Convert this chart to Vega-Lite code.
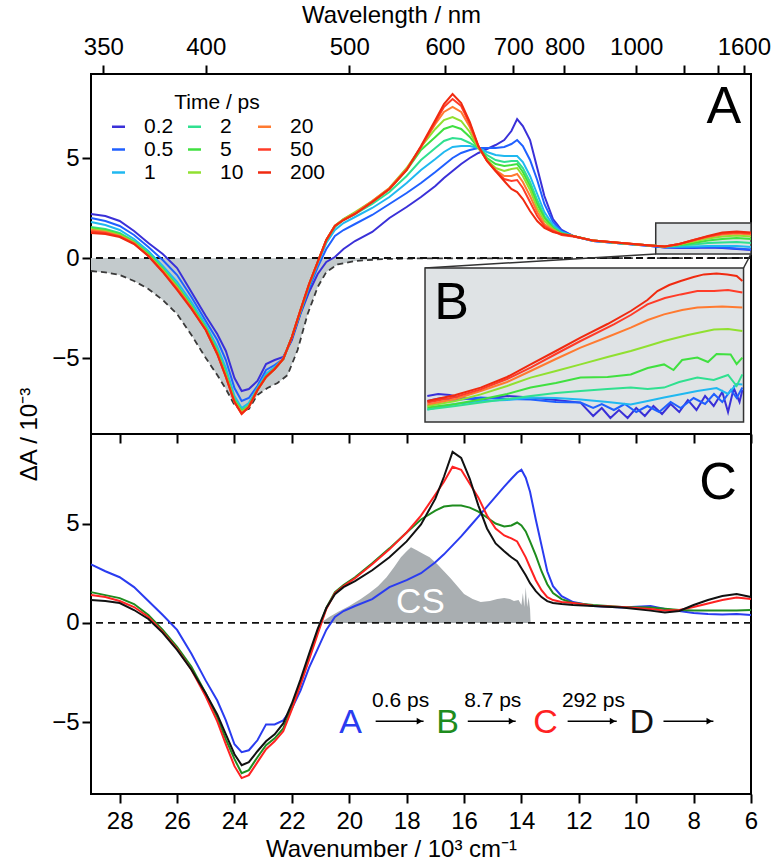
{
"$schema": "https://vega.github.io/schema/vega-lite/v6.json",
"background": "white",
"padding": {"left": 16, "top": 2, "right": 25, "bottom": 5},
"spacing": 0,
"bounds": "flush",
"config": {
  "font": "Liberation Sans",
  "view": {"stroke": "black", "strokeWidth": 2},
  "axis": {"domain": false, "grid": false, "ticks": true, "tickColor": "black", "tickWidth": 2, "tickSize": 9,
    "labelFont": "Liberation Sans", "labelFontSize": 24, "labelColor": "black",
    "titleFont": "Liberation Sans", "titleFontSize": 24, "titleFontWeight": "normal", "titleColor": "black",
    "labelFlush": false, "labelOverlap": false}
},
"resolve": {"scale": {"color": "independent"}},
"datasets": {
"ta": [
{"t":"0.2","x":29,"y":2.2},{"t":"0.2","x":28.5,"y":2.1},{"t":"0.2","x":28,"y":1.85},{"t":"0.2","x":27.5,"y":1.35},{"t":"0.2","x":27,"y":0.75},{"t":"0.2","x":26.5,"y":0.2},{"t":"0.2","x":26,"y":-0.5},{"t":"0.2","x":25.5,"y":-1.7},{"t":"0.2","x":25,"y":-2.9},{"t":"0.2","x":24.6,"y":-3.8},{"t":"0.2","x":24.3,"y":-4.65},{"t":"0.2","x":24,"y":-6.0},{"t":"0.2","x":23.75,"y":-6.65},{"t":"0.2","x":23.5,"y":-6.55},{"t":"0.2","x":23.2,"y":-6.15},{"t":"0.2","x":22.9,"y":-5.3},{"t":"0.2","x":22.6,"y":-5.1},{"t":"0.2","x":22.3,"y":-4.95},{"t":"0.2","x":22,"y":-4.1},{"t":"0.2","x":21.7,"y":-2.8},{"t":"0.2","x":21.4,"y":-1.7},{"t":"0.2","x":21.1,"y":-0.8},{"t":"0.2","x":20.8,"y":-0.2},{"t":"0.2","x":20.5,"y":0.05},{"t":"0.2","x":20.2,"y":0.45},{"t":"0.2","x":19.8,"y":0.85},{"t":"0.2","x":19.2,"y":1.3},{"t":"0.2","x":18.6,"y":2.0},{"t":"0.2","x":18,"y":2.55},{"t":"0.2","x":17.5,"y":3.05},{"t":"0.2","x":17,"y":3.6},{"t":"0.2","x":16.7,"y":4.0},{"t":"0.2","x":16.4,"y":4.35},{"t":"0.2","x":16.1,"y":4.7},{"t":"0.2","x":15.8,"y":5.0},{"t":"0.2","x":15.5,"y":5.25},{"t":"0.2","x":15.2,"y":5.45},{"t":"0.2","x":14.9,"y":5.65},{"t":"0.2","x":14.6,"y":5.9},{"t":"0.2","x":14.35,"y":6.35},{"t":"0.2","x":14.15,"y":6.95},{"t":"0.2","x":13.95,"y":6.6},{"t":"0.2","x":13.7,"y":5.9},{"t":"0.2","x":13.45,"y":4.5},{"t":"0.2","x":13.2,"y":3.1},{"t":"0.2","x":12.9,"y":1.95},{"t":"0.2","x":12.6,"y":1.4},{"t":"0.2","x":12.2,"y":1.1},{"t":"0.2","x":11.5,"y":0.85},{"t":"0.2","x":10.5,"y":0.72},{"t":"0.2","x":9.5,"y":0.6},{"t":"0.2","x":9,"y":0.52},{"t":"0.2","x":8.5,"y":0.5},{"t":"0.2","x":8,"y":0.5},{"t":"0.2","x":7.5,"y":0.52},{"t":"0.2","x":7,"y":0.5},{"t":"0.2","x":6.5,"y":0.45},{"t":"0.2","x":6,"y":0.4},
{"t":"0.5","x":29,"y":2.0},{"t":"0.5","x":28.5,"y":1.85},{"t":"0.5","x":28,"y":1.6},{"t":"0.5","x":27.5,"y":1.15},{"t":"0.5","x":27,"y":0.55},{"t":"0.5","x":26.5,"y":-0.1},{"t":"0.5","x":26,"y":-0.85},{"t":"0.5","x":25.5,"y":-1.95},{"t":"0.5","x":25,"y":-3.15},{"t":"0.5","x":24.6,"y":-4.1},{"t":"0.5","x":24.3,"y":-5.1},{"t":"0.5","x":24,"y":-6.5},{"t":"0.5","x":23.75,"y":-7.15},{"t":"0.5","x":23.5,"y":-7.0},{"t":"0.5","x":23.2,"y":-6.4},{"t":"0.5","x":22.9,"y":-5.6},{"t":"0.5","x":22.6,"y":-5.35},{"t":"0.5","x":22.3,"y":-5.05},{"t":"0.5","x":22,"y":-4.0},{"t":"0.5","x":21.7,"y":-2.75},{"t":"0.5","x":21.4,"y":-1.5},{"t":"0.5","x":21.1,"y":-0.45},{"t":"0.5","x":20.8,"y":0.45},{"t":"0.5","x":20.5,"y":1.1},{"t":"0.5","x":20.2,"y":1.4},{"t":"0.5","x":19.8,"y":1.7},{"t":"0.5","x":19.2,"y":2.15},{"t":"0.5","x":18.6,"y":2.7},{"t":"0.5","x":18,"y":3.25},{"t":"0.5","x":17.5,"y":3.75},{"t":"0.5","x":17,"y":4.3},{"t":"0.5","x":16.7,"y":4.65},{"t":"0.5","x":16.4,"y":5.0},{"t":"0.5","x":16.1,"y":5.25},{"t":"0.5","x":15.8,"y":5.4},{"t":"0.5","x":15.5,"y":5.5},{"t":"0.5","x":15.2,"y":5.5},{"t":"0.5","x":14.9,"y":5.5},{"t":"0.5","x":14.6,"y":5.55},{"t":"0.5","x":14.35,"y":5.7},{"t":"0.5","x":14.15,"y":5.9},{"t":"0.5","x":13.95,"y":5.6},{"t":"0.5","x":13.7,"y":4.9},{"t":"0.5","x":13.45,"y":3.9},{"t":"0.5","x":13.2,"y":2.7},{"t":"0.5","x":12.9,"y":1.8},{"t":"0.5","x":12.6,"y":1.35},{"t":"0.5","x":12.2,"y":1.1},{"t":"0.5","x":11.5,"y":0.85},{"t":"0.5","x":10.5,"y":0.72},{"t":"0.5","x":9.5,"y":0.6},{"t":"0.5","x":9,"y":0.53},{"t":"0.5","x":8.5,"y":0.52},{"t":"0.5","x":8,"y":0.53},{"t":"0.5","x":7.5,"y":0.55},{"t":"0.5","x":7,"y":0.52},{"t":"0.5","x":6.5,"y":0.48},{"t":"0.5","x":6,"y":0.42},
{"t":"1","x":29,"y":1.8},{"t":"1","x":28.5,"y":1.65},{"t":"1","x":28,"y":1.4},{"t":"1","x":27.5,"y":0.95},{"t":"1","x":27,"y":0.35},{"t":"1","x":26.5,"y":-0.4},{"t":"1","x":26,"y":-1.2},{"t":"1","x":25.5,"y":-2.2},{"t":"1","x":25,"y":-3.35},{"t":"1","x":24.6,"y":-4.45},{"t":"1","x":24.3,"y":-5.5},{"t":"1","x":24,"y":-6.9},{"t":"1","x":23.75,"y":-7.5},{"t":"1","x":23.5,"y":-7.25},{"t":"1","x":23.2,"y":-6.5},{"t":"1","x":22.9,"y":-5.8},{"t":"1","x":22.6,"y":-5.45},{"t":"1","x":22.3,"y":-5.05},{"t":"1","x":22,"y":-3.95},{"t":"1","x":21.7,"y":-2.7},{"t":"1","x":21.4,"y":-1.4},{"t":"1","x":21.1,"y":-0.3},{"t":"1","x":20.8,"y":0.75},{"t":"1","x":20.5,"y":1.4},{"t":"1","x":20.2,"y":1.75},{"t":"1","x":19.8,"y":2.05},{"t":"1","x":19.2,"y":2.5},{"t":"1","x":18.6,"y":3.05},{"t":"1","x":18,"y":3.75},{"t":"1","x":17.5,"y":4.4},{"t":"1","x":17,"y":4.95},{"t":"1","x":16.7,"y":5.3},{"t":"1","x":16.4,"y":5.55},{"t":"1","x":16.1,"y":5.6},{"t":"1","x":15.8,"y":5.6},{"t":"1","x":15.5,"y":5.5},{"t":"1","x":15.2,"y":5.3},{"t":"1","x":14.9,"y":5.15},{"t":"1","x":14.6,"y":5.1},{"t":"1","x":14.35,"y":5.1},{"t":"1","x":14.15,"y":5.1},{"t":"1","x":13.95,"y":4.8},{"t":"1","x":13.7,"y":4.1},{"t":"1","x":13.45,"y":3.2},{"t":"1","x":13.2,"y":2.3},{"t":"1","x":12.9,"y":1.65},{"t":"1","x":12.6,"y":1.3},{"t":"1","x":12.2,"y":1.1},{"t":"1","x":11.5,"y":0.86},{"t":"1","x":10.5,"y":0.73},{"t":"1","x":9.5,"y":0.62},{"t":"1","x":9,"y":0.56},{"t":"1","x":8.5,"y":0.56},{"t":"1","x":8,"y":0.58},{"t":"1","x":7.5,"y":0.6},{"t":"1","x":7,"y":0.6},{"t":"1","x":6.5,"y":0.6},{"t":"1","x":6,"y":0.55},
{"t":"2","x":29,"y":1.55},{"t":"2","x":28.5,"y":1.45},{"t":"2","x":28,"y":1.25},{"t":"2","x":27.5,"y":0.85},{"t":"2","x":27,"y":0.25},{"t":"2","x":26.5,"y":-0.5},{"t":"2","x":26,"y":-1.35},{"t":"2","x":25.5,"y":-2.35},{"t":"2","x":25,"y":-3.45},{"t":"2","x":24.6,"y":-4.6},{"t":"2","x":24.3,"y":-5.7},{"t":"2","x":24,"y":-7.05},{"t":"2","x":23.75,"y":-7.6},{"t":"2","x":23.5,"y":-7.35},{"t":"2","x":23.2,"y":-6.55},{"t":"2","x":22.9,"y":-5.9},{"t":"2","x":22.6,"y":-5.5},{"t":"2","x":22.3,"y":-5.05},{"t":"2","x":22,"y":-3.95},{"t":"2","x":21.7,"y":-2.65},{"t":"2","x":21.4,"y":-1.35},{"t":"2","x":21.1,"y":-0.2},{"t":"2","x":20.8,"y":0.85},{"t":"2","x":20.5,"y":1.55},{"t":"2","x":20.2,"y":1.9},{"t":"2","x":19.8,"y":2.2},{"t":"2","x":19.2,"y":2.7},{"t":"2","x":18.6,"y":3.3},{"t":"2","x":18,"y":4.1},{"t":"2","x":17.5,"y":4.9},{"t":"2","x":17,"y":5.5},{"t":"2","x":16.7,"y":5.85},{"t":"2","x":16.4,"y":6.0},{"t":"2","x":16.1,"y":5.95},{"t":"2","x":15.8,"y":5.75},{"t":"2","x":15.5,"y":5.5},{"t":"2","x":15.2,"y":5.15},{"t":"2","x":14.9,"y":4.9},{"t":"2","x":14.6,"y":4.8},{"t":"2","x":14.35,"y":4.85},{"t":"2","x":14.15,"y":4.85},{"t":"2","x":13.95,"y":4.5},{"t":"2","x":13.7,"y":3.8},{"t":"2","x":13.45,"y":2.9},{"t":"2","x":13.2,"y":2.1},{"t":"2","x":12.9,"y":1.55},{"t":"2","x":12.6,"y":1.25},{"t":"2","x":12.2,"y":1.1},{"t":"2","x":11.5,"y":0.87},{"t":"2","x":10.5,"y":0.74},{"t":"2","x":9.5,"y":0.62},{"t":"2","x":9,"y":0.57},{"t":"2","x":8.5,"y":0.62},{"t":"2","x":8,"y":0.68},{"t":"2","x":7.5,"y":0.75},{"t":"2","x":7,"y":0.78},{"t":"2","x":6.5,"y":0.8},{"t":"2","x":6,"y":0.75},
{"t":"5","x":29,"y":1.5},{"t":"5","x":28.5,"y":1.4},{"t":"5","x":28,"y":1.2},{"t":"5","x":27.5,"y":0.8},{"t":"5","x":27,"y":0.2},{"t":"5","x":26.5,"y":-0.55},{"t":"5","x":26,"y":-1.4},{"t":"5","x":25.5,"y":-2.4},{"t":"5","x":25,"y":-3.5},{"t":"5","x":24.6,"y":-4.7},{"t":"5","x":24.3,"y":-5.8},{"t":"5","x":24,"y":-7.1},{"t":"5","x":23.75,"y":-7.65},{"t":"5","x":23.5,"y":-7.4},{"t":"5","x":23.2,"y":-6.6},{"t":"5","x":22.9,"y":-5.95},{"t":"5","x":22.6,"y":-5.55},{"t":"5","x":22.3,"y":-5.05},{"t":"5","x":22,"y":-3.95},{"t":"5","x":21.7,"y":-2.65},{"t":"5","x":21.4,"y":-1.35},{"t":"5","x":21.1,"y":-0.2},{"t":"5","x":20.8,"y":0.9},{"t":"5","x":20.5,"y":1.6},{"t":"5","x":20.2,"y":1.95},{"t":"5","x":19.8,"y":2.25},{"t":"5","x":19.2,"y":2.8},{"t":"5","x":18.6,"y":3.45},{"t":"5","x":18,"y":4.4},{"t":"5","x":17.5,"y":5.4},{"t":"5","x":17,"y":6.05},{"t":"5","x":16.7,"y":6.45},{"t":"5","x":16.4,"y":6.6},{"t":"5","x":16.1,"y":6.45},{"t":"5","x":15.8,"y":6.05},{"t":"5","x":15.5,"y":5.5},{"t":"5","x":15.2,"y":5.0},{"t":"5","x":14.9,"y":4.7},{"t":"5","x":14.6,"y":4.6},{"t":"5","x":14.35,"y":4.65},{"t":"5","x":14.15,"y":4.7},{"t":"5","x":13.95,"y":4.3},{"t":"5","x":13.7,"y":3.6},{"t":"5","x":13.45,"y":2.7},{"t":"5","x":13.2,"y":2.0},{"t":"5","x":12.9,"y":1.5},{"t":"5","x":12.6,"y":1.22},{"t":"5","x":12.2,"y":1.1},{"t":"5","x":11.5,"y":0.87},{"t":"5","x":10.5,"y":0.74},{"t":"5","x":9.5,"y":0.62},{"t":"5","x":9,"y":0.58},{"t":"5","x":8.5,"y":0.65},{"t":"5","x":8,"y":0.75},{"t":"5","x":7.5,"y":0.88},{"t":"5","x":7,"y":0.95},{"t":"5","x":6.5,"y":1.0},{"t":"5","x":6,"y":0.95},
{"t":"10","x":29,"y":1.45},{"t":"10","x":28.5,"y":1.35},{"t":"10","x":28,"y":1.15},{"t":"10","x":27.5,"y":0.78},{"t":"10","x":27,"y":0.15},{"t":"10","x":26.5,"y":-0.6},{"t":"10","x":26,"y":-1.45},{"t":"10","x":25.5,"y":-2.45},{"t":"10","x":25,"y":-3.55},{"t":"10","x":24.6,"y":-4.75},{"t":"10","x":24.3,"y":-5.85},{"t":"10","x":24,"y":-7.15},{"t":"10","x":23.75,"y":-7.7},{"t":"10","x":23.5,"y":-7.4},{"t":"10","x":23.2,"y":-6.6},{"t":"10","x":22.9,"y":-5.95},{"t":"10","x":22.6,"y":-5.55},{"t":"10","x":22.3,"y":-5.05},{"t":"10","x":22,"y":-3.95},{"t":"10","x":21.7,"y":-2.6},{"t":"10","x":21.4,"y":-1.3},{"t":"10","x":21.1,"y":-0.2},{"t":"10","x":20.8,"y":0.9},{"t":"10","x":20.5,"y":1.62},{"t":"10","x":20.2,"y":1.95},{"t":"10","x":19.8,"y":2.3},{"t":"10","x":19.2,"y":2.85},{"t":"10","x":18.6,"y":3.5},{"t":"10","x":18,"y":4.5},{"t":"10","x":17.5,"y":5.55},{"t":"10","x":17,"y":6.45},{"t":"10","x":16.7,"y":6.9},{"t":"10","x":16.4,"y":7.05},{"t":"10","x":16.1,"y":6.85},{"t":"10","x":15.8,"y":6.3},{"t":"10","x":15.5,"y":5.5},{"t":"10","x":15.2,"y":4.9},{"t":"10","x":14.9,"y":4.5},{"t":"10","x":14.6,"y":4.35},{"t":"10","x":14.35,"y":4.45},{"t":"10","x":14.15,"y":4.5},{"t":"10","x":13.95,"y":4.1},{"t":"10","x":13.7,"y":3.4},{"t":"10","x":13.45,"y":2.5},{"t":"10","x":13.2,"y":1.85},{"t":"10","x":12.9,"y":1.45},{"t":"10","x":12.6,"y":1.2},{"t":"10","x":12.2,"y":1.1},{"t":"10","x":11.5,"y":0.87},{"t":"10","x":10.5,"y":0.74},{"t":"10","x":9.5,"y":0.62},{"t":"10","x":9,"y":0.58},{"t":"10","x":8.5,"y":0.68},{"t":"10","x":8,"y":0.82},{"t":"10","x":7.5,"y":0.98},{"t":"10","x":7,"y":1.08},{"t":"10","x":6.5,"y":1.12},{"t":"10","x":6,"y":1.07},
{"t":"20","x":29,"y":1.4},{"t":"20","x":28.5,"y":1.3},{"t":"20","x":28,"y":1.1},{"t":"20","x":27.5,"y":0.75},{"t":"20","x":27,"y":0.12},{"t":"20","x":26.5,"y":-0.65},{"t":"20","x":26,"y":-1.5},{"t":"20","x":25.5,"y":-2.5},{"t":"20","x":25,"y":-3.6},{"t":"20","x":24.6,"y":-4.8},{"t":"20","x":24.3,"y":-5.9},{"t":"20","x":24,"y":-7.2},{"t":"20","x":23.75,"y":-7.75},{"t":"20","x":23.5,"y":-7.45},{"t":"20","x":23.2,"y":-6.6},{"t":"20","x":22.9,"y":-5.95},{"t":"20","x":22.6,"y":-5.55},{"t":"20","x":22.3,"y":-5.05},{"t":"20","x":22,"y":-3.95},{"t":"20","x":21.7,"y":-2.6},{"t":"20","x":21.4,"y":-1.3},{"t":"20","x":21.1,"y":-0.2},{"t":"20","x":20.8,"y":0.9},{"t":"20","x":20.5,"y":1.62},{"t":"20","x":20.2,"y":1.92},{"t":"20","x":19.8,"y":2.25},{"t":"20","x":19.2,"y":2.85},{"t":"20","x":18.6,"y":3.5},{"t":"20","x":18,"y":4.45},{"t":"20","x":17.5,"y":5.55},{"t":"20","x":17,"y":6.7},{"t":"20","x":16.7,"y":7.3},{"t":"20","x":16.4,"y":7.55},{"t":"20","x":16.1,"y":7.3},{"t":"20","x":15.8,"y":6.55},{"t":"20","x":15.5,"y":5.55},{"t":"20","x":15.2,"y":4.85},{"t":"20","x":14.9,"y":4.4},{"t":"20","x":14.6,"y":4.1},{"t":"20","x":14.35,"y":4.1},{"t":"20","x":14.15,"y":4.2},{"t":"20","x":13.95,"y":3.8},{"t":"20","x":13.7,"y":3.1},{"t":"20","x":13.45,"y":2.3},{"t":"20","x":13.2,"y":1.7},{"t":"20","x":12.9,"y":1.4},{"t":"20","x":12.6,"y":1.18},{"t":"20","x":12.2,"y":1.1},{"t":"20","x":11.5,"y":0.87},{"t":"20","x":10.5,"y":0.75},{"t":"20","x":9.5,"y":0.62},{"t":"20","x":9,"y":0.58},{"t":"20","x":8.5,"y":0.7},{"t":"20","x":8,"y":0.87},{"t":"20","x":7.5,"y":1.05},{"t":"20","x":7,"y":1.18},{"t":"20","x":6.5,"y":1.22},{"t":"20","x":6,"y":1.18},
{"t":"50","x":29,"y":1.32},{"t":"50","x":28.5,"y":1.25},{"t":"50","x":28,"y":1.08},{"t":"50","x":27.5,"y":0.72},{"t":"50","x":27,"y":0.1},{"t":"50","x":26.5,"y":-0.68},{"t":"50","x":26,"y":-1.55},{"t":"50","x":25.5,"y":-2.5},{"t":"50","x":25,"y":-3.6},{"t":"50","x":24.6,"y":-4.8},{"t":"50","x":24.3,"y":-5.95},{"t":"50","x":24,"y":-7.2},{"t":"50","x":23.75,"y":-7.8},{"t":"50","x":23.5,"y":-7.45},{"t":"50","x":23.2,"y":-6.6},{"t":"50","x":22.9,"y":-5.95},{"t":"50","x":22.6,"y":-5.55},{"t":"50","x":22.3,"y":-5.05},{"t":"50","x":22,"y":-3.95},{"t":"50","x":21.7,"y":-2.6},{"t":"50","x":21.4,"y":-1.3},{"t":"50","x":21.1,"y":-0.2},{"t":"50","x":20.8,"y":0.9},{"t":"50","x":20.5,"y":1.6},{"t":"50","x":20.2,"y":1.9},{"t":"50","x":19.8,"y":2.2},{"t":"50","x":19.2,"y":2.8},{"t":"50","x":18.6,"y":3.45},{"t":"50","x":18,"y":4.4},{"t":"50","x":17.5,"y":5.55},{"t":"50","x":17,"y":6.8},{"t":"50","x":16.7,"y":7.55},{"t":"50","x":16.4,"y":7.95},{"t":"50","x":16.1,"y":7.6},{"t":"50","x":15.8,"y":6.7},{"t":"50","x":15.5,"y":5.6},{"t":"50","x":15.2,"y":4.85},{"t":"50","x":14.9,"y":4.35},{"t":"50","x":14.6,"y":3.95},{"t":"50","x":14.35,"y":3.85},{"t":"50","x":14.15,"y":3.9},{"t":"50","x":13.95,"y":3.5},{"t":"50","x":13.7,"y":2.8},{"t":"50","x":13.45,"y":2.1},{"t":"50","x":13.2,"y":1.6},{"t":"50","x":12.9,"y":1.35},{"t":"50","x":12.6,"y":1.15},{"t":"50","x":12.2,"y":1.08},{"t":"50","x":11.5,"y":0.87},{"t":"50","x":10.5,"y":0.75},{"t":"50","x":9.5,"y":0.62},{"t":"50","x":9,"y":0.57},{"t":"50","x":8.5,"y":0.7},{"t":"50","x":8,"y":0.9},{"t":"50","x":7.5,"y":1.08},{"t":"50","x":7,"y":1.22},{"t":"50","x":6.5,"y":1.27},{"t":"50","x":6,"y":1.22},
{"t":"200","x":29,"y":1.25},{"t":"200","x":28.5,"y":1.2},{"t":"200","x":28,"y":1.05},{"t":"200","x":27.5,"y":0.7},{"t":"200","x":27,"y":0.1},{"t":"200","x":26.5,"y":-0.7},{"t":"200","x":26,"y":-1.6},{"t":"200","x":25.5,"y":-2.55},{"t":"200","x":25,"y":-3.6},{"t":"200","x":24.6,"y":-4.8},{"t":"200","x":24.3,"y":-5.95},{"t":"200","x":24,"y":-7.2},{"t":"200","x":23.75,"y":-7.8},{"t":"200","x":23.5,"y":-7.45},{"t":"200","x":23.2,"y":-6.6},{"t":"200","x":22.9,"y":-5.95},{"t":"200","x":22.6,"y":-5.55},{"t":"200","x":22.3,"y":-5.05},{"t":"200","x":22,"y":-3.95},{"t":"200","x":21.7,"y":-2.6},{"t":"200","x":21.4,"y":-1.3},{"t":"200","x":21.1,"y":-0.2},{"t":"200","x":20.8,"y":0.9},{"t":"200","x":20.5,"y":1.6},{"t":"200","x":20.2,"y":1.9},{"t":"200","x":19.8,"y":2.2},{"t":"200","x":19.2,"y":2.8},{"t":"200","x":18.6,"y":3.45},{"t":"200","x":18,"y":4.4},{"t":"200","x":17.5,"y":5.6},{"t":"200","x":17,"y":6.9},{"t":"200","x":16.7,"y":7.7},{"t":"200","x":16.4,"y":8.2},{"t":"200","x":16.1,"y":7.75},{"t":"200","x":15.8,"y":6.8},{"t":"200","x":15.5,"y":5.6},{"t":"200","x":15.2,"y":4.85},{"t":"200","x":14.9,"y":4.35},{"t":"200","x":14.6,"y":3.85},{"t":"200","x":14.35,"y":3.45},{"t":"200","x":14.15,"y":3.3},{"t":"200","x":13.95,"y":2.95},{"t":"200","x":13.7,"y":2.35},{"t":"200","x":13.45,"y":1.85},{"t":"200","x":13.2,"y":1.5},{"t":"200","x":12.9,"y":1.3},{"t":"200","x":12.6,"y":1.2},{"t":"200","x":12.2,"y":1.1},{"t":"200","x":11.5,"y":0.87},{"t":"200","x":10.5,"y":0.75},{"t":"200","x":9.5,"y":0.62},{"t":"200","x":9,"y":0.57},{"t":"200","x":8.5,"y":0.7},{"t":"200","x":8,"y":0.9},{"t":"200","x":7.5,"y":1.1},{"t":"200","x":7,"y":1.28},{"t":"200","x":6.5,"y":1.33},{"t":"200","x":6,"y":1.27}
],
"ss": [
{"x":29,"y":-0.65},{"x":28.5,"y":-0.72},{"x":28,"y":-0.85},{"x":27.5,"y":-1.15},{"x":27,"y":-1.55},{"x":26.5,"y":-2.1},{"x":26,"y":-2.8},{"x":25.5,"y":-3.85},{"x":25,"y":-5.0},{"x":24.6,"y":-5.85},{"x":24.3,"y":-6.55},{"x":24,"y":-7.35},{"x":23.75,"y":-7.65},{"x":23.5,"y":-7.55},{"x":23.2,"y":-6.85},{"x":22.85,"y":-6.5},{"x":22.5,"y":-6.25},{"x":22.15,"y":-5.85},{"x":21.8,"y":-4.6},{"x":21.45,"y":-2.8},{"x":21.1,"y":-1.45},{"x":20.8,"y":-0.7},{"x":20.4,"y":-0.32},{"x":19.8,"y":-0.15},{"x":18.8,"y":-0.05},{"x":17.5,"y":-0.02},{"x":6,"y":0}
],
"ins": [
{"t":"0.2","x":17.28,"y":-6.9},{"t":"0.2","x":16.9,"y":-6.8},{"t":"0.2","x":16.5,"y":-6.85},{"t":"0.2","x":16.1,"y":-7.0},{"t":"0.2","x":15.42,"y":-7.07},{"t":"0.2","x":14.5,"y":-6.9},{"t":"0.2","x":13.68,"y":-6.98},{"t":"0.2","x":12.8,"y":-7.1},{"t":"0.2","x":11.94,"y":-7.23},{"t":"0.2","x":11.5,"y":-7.9},{"t":"0.2","x":11.2,"y":-7.5},{"t":"0.2","x":10.9,"y":-8.0},{"t":"0.2","x":10.6,"y":-7.6},{"t":"0.2","x":10.3,"y":-8.0},{"t":"0.2","x":10.0,"y":-7.5},{"t":"0.2","x":9.7,"y":-7.9},{"t":"0.2","x":9.4,"y":-7.4},{"t":"0.2","x":9.1,"y":-7.8},{"t":"0.2","x":8.8,"y":-7.3},{"t":"0.2","x":8.5,"y":-7.7},{"t":"0.2","x":8.2,"y":-7.1},{"t":"0.2","x":7.9,"y":-7.6},{"t":"0.2","x":7.6,"y":-6.9},{"t":"0.2","x":7.3,"y":-7.4},{"t":"0.2","x":7.0,"y":-6.7},{"t":"0.2","x":6.8,"y":-7.7},{"t":"0.2","x":6.6,"y":-6.5},{"t":"0.2","x":6.4,"y":-7.2},{"t":"0.2","x":6.3,"y":-6.6},
{"t":"0.5","x":17.28,"y":-7.15},{"t":"0.5","x":16.8,"y":-7.0},{"t":"0.5","x":16.3,"y":-7.1},{"t":"0.5","x":15.42,"y":-6.98},{"t":"0.5","x":14.5,"y":-7.05},{"t":"0.5","x":13.68,"y":-7.07},{"t":"0.5","x":12.8,"y":-7.2},{"t":"0.5","x":11.94,"y":-7.23},{"t":"0.5","x":11.5,"y":-7.5},{"t":"0.5","x":11.2,"y":-7.3},{"t":"0.5","x":10.78,"y":-7.6},{"t":"0.5","x":10.4,"y":-7.3},{"t":"0.5","x":10.0,"y":-7.7},{"t":"0.5","x":9.61,"y":-7.4},{"t":"0.5","x":9.2,"y":-7.7},{"t":"0.5","x":8.8,"y":-7.2},{"t":"0.5","x":8.45,"y":-7.5},{"t":"0.5","x":8.0,"y":-7.0},{"t":"0.5","x":7.6,"y":-7.3},{"t":"0.5","x":7.29,"y":-6.8},{"t":"0.5","x":7.0,"y":-7.2},{"t":"0.5","x":6.7,"y":-6.6},{"t":"0.5","x":6.5,"y":-7.0},{"t":"0.5","x":6.3,"y":-6.48},
{"t":"1","x":17.28,"y":-7.57},{"t":"1","x":16.3,"y":-7.3},{"t":"1","x":15.42,"y":-7.15},{"t":"1","x":14.5,"y":-7.1},{"t":"1","x":13.68,"y":-6.98},{"t":"1","x":12.8,"y":-7.0},{"t":"1","x":11.94,"y":-7.07},{"t":"1","x":11.0,"y":-7.2},{"t":"1","x":10.19,"y":-7.32},{"t":"1","x":9.6,"y":-7.15},{"t":"1","x":9.03,"y":-6.98},{"t":"1","x":8.4,"y":-6.8},{"t":"1","x":7.87,"y":-6.65},{"t":"1","x":7.2,"y":-6.5},{"t":"1","x":6.8,"y":-6.8},{"t":"1","x":6.5,"y":-6.3},{"t":"1","x":6.3,"y":-6.32},
{"t":"2","x":17.28,"y":-7.57},{"t":"2","x":16.3,"y":-7.4},{"t":"2","x":15.42,"y":-7.23},{"t":"2","x":14.5,"y":-7.05},{"t":"2","x":13.68,"y":-6.9},{"t":"2","x":12.8,"y":-6.75},{"t":"2","x":11.94,"y":-6.65},{"t":"2","x":11.0,"y":-6.55},{"t":"2","x":10.19,"y":-6.48},{"t":"2","x":9.6,"y":-6.55},{"t":"2","x":9.03,"y":-6.48},{"t":"2","x":8.5,"y":-6.2},{"t":"2","x":7.87,"y":-5.98},{"t":"2","x":7.3,"y":-6.1},{"t":"2","x":6.8,"y":-5.85},{"t":"2","x":6.5,"y":-6.4},{"t":"2","x":6.3,"y":-5.82},
{"t":"5","x":17.28,"y":-7.48},{"t":"5","x":16.3,"y":-7.3},{"t":"5","x":15.42,"y":-7.07},{"t":"5","x":14.5,"y":-6.8},{"t":"5","x":13.68,"y":-6.48},{"t":"5","x":12.8,"y":-6.25},{"t":"5","x":11.94,"y":-5.98},{"t":"5","x":11.0,"y":-5.95},{"t":"5","x":10.19,"y":-5.82},{"t":"5","x":9.6,"y":-5.5},{"t":"5","x":9.03,"y":-5.32},{"t":"5","x":8.7,"y":-5.6},{"t":"5","x":8.4,"y":-5.1},{"t":"5","x":7.87,"y":-4.98},{"t":"5","x":7.5,"y":-5.2},{"t":"5","x":7.2,"y":-4.8},{"t":"5","x":6.71,"y":-4.82},{"t":"5","x":6.5,"y":-5.3},{"t":"5","x":6.3,"y":-4.98},
{"t":"10","x":17.28,"y":-7.4},{"t":"10","x":16.3,"y":-7.15},{"t":"10","x":15.42,"y":-6.82},{"t":"10","x":14.5,"y":-6.4},{"t":"10","x":13.68,"y":-5.98},{"t":"10","x":12.8,"y":-5.65},{"t":"10","x":11.94,"y":-5.32},{"t":"10","x":11.0,"y":-4.95},{"t":"10","x":10.19,"y":-4.65},{"t":"10","x":9.6,"y":-4.4},{"t":"10","x":9.03,"y":-4.15},{"t":"10","x":8.2,"y":-3.85},{"t":"10","x":7.29,"y":-3.57},{"t":"10","x":6.8,"y":-3.55},{"t":"10","x":6.3,"y":-3.65},
{"t":"20","x":17.28,"y":-7.32},{"t":"20","x":16.3,"y":-7.05},{"t":"20","x":15.42,"y":-6.65},{"t":"20","x":14.5,"y":-6.2},{"t":"20","x":13.68,"y":-5.65},{"t":"20","x":12.8,"y":-5.05},{"t":"20","x":11.94,"y":-4.48},{"t":"20","x":11.0,"y":-3.95},{"t":"20","x":10.19,"y":-3.48},{"t":"20","x":9.6,"y":-3.1},{"t":"20","x":9.03,"y":-2.82},{"t":"20","x":8.4,"y":-2.6},{"t":"20","x":7.87,"y":-2.48},{"t":"20","x":7.0,"y":-2.42},{"t":"20","x":6.3,"y":-2.48},
{"t":"50","x":17.28,"y":-7.23},{"t":"50","x":16.3,"y":-6.95},{"t":"50","x":15.42,"y":-6.57},{"t":"50","x":14.5,"y":-6.05},{"t":"50","x":13.68,"y":-5.48},{"t":"50","x":12.8,"y":-4.8},{"t":"50","x":11.94,"y":-4.15},{"t":"50","x":10.78,"y":-3.32},{"t":"50","x":10.19,"y":-2.85},{"t":"50","x":9.61,"y":-2.32},{"t":"50","x":9.0,"y":-2.0},{"t":"50","x":8.45,"y":-1.82},{"t":"50","x":7.87,"y":-1.65},{"t":"50","x":7.29,"y":-1.65},{"t":"50","x":6.8,"y":-1.6},{"t":"50","x":6.3,"y":-1.73},
{"t":"200","x":17.28,"y":-7.15},{"t":"200","x":16.3,"y":-6.85},{"t":"200","x":15.42,"y":-6.48},{"t":"200","x":14.5,"y":-5.95},{"t":"200","x":13.68,"y":-5.32},{"t":"200","x":12.8,"y":-4.65},{"t":"200","x":11.94,"y":-3.98},{"t":"200","x":11.0,"y":-3.3},{"t":"200","x":10.19,"y":-2.65},{"t":"200","x":9.61,"y":-2.1},{"t":"200","x":9.26,"y":-1.65},{"t":"200","x":8.85,"y":-1.35},{"t":"200","x":8.45,"y":-1.15},{"t":"200","x":8.0,"y":-0.95},{"t":"200","x":7.64,"y":-0.82},{"t":"200","x":7.2,"y":-0.78},{"t":"200","x":6.83,"y":-0.82},{"t":"200","x":6.5,"y":-0.9},{"t":"200","x":6.3,"y":-1.15}
],
"tc": [
{"s":"A","x":29,"y":2.95},{"s":"A","x":28.5,"y":2.6},{"s":"A","x":28,"y":2.3},{"s":"A","x":27.5,"y":1.8},{"s":"A","x":27,"y":1.1},{"s":"A","x":26.5,"y":0.4},{"s":"A","x":26,"y":-0.35},{"s":"A","x":25.5,"y":-1.55},{"s":"A","x":25,"y":-2.9},{"s":"A","x":24.6,"y":-3.9},{"s":"A","x":24.3,"y":-4.9},{"s":"A","x":24,"y":-6.1},{"s":"A","x":23.75,"y":-6.5},{"s":"A","x":23.5,"y":-6.4},{"s":"A","x":23.2,"y":-5.9},{"s":"A","x":22.9,"y":-5.1},{"s":"A","x":22.6,"y":-5.1},{"s":"A","x":22.3,"y":-4.9},{"s":"A","x":22,"y":-4.3},{"s":"A","x":21.7,"y":-3.4},{"s":"A","x":21.4,"y":-2.25},{"s":"A","x":21.1,"y":-1.3},{"s":"A","x":20.8,"y":-0.35},{"s":"A","x":20.5,"y":0.3},{"s":"A","x":20.2,"y":0.6},{"s":"A","x":19.8,"y":0.85},{"s":"A","x":19.2,"y":1.2},{"s":"A","x":18.6,"y":1.8},{"s":"A","x":18,"y":2.15},{"s":"A","x":17.5,"y":2.5},{"s":"A","x":17,"y":3.05},{"s":"A","x":16.7,"y":3.45},{"s":"A","x":16.4,"y":3.9},{"s":"A","x":16.1,"y":4.35},{"s":"A","x":15.8,"y":4.85},{"s":"A","x":15.5,"y":5.35},{"s":"A","x":15.2,"y":5.85},{"s":"A","x":14.9,"y":6.35},{"s":"A","x":14.6,"y":6.85},{"s":"A","x":14.35,"y":7.25},{"s":"A","x":14.15,"y":7.55},{"s":"A","x":14,"y":7.7},{"s":"A","x":13.85,"y":7.3},{"s":"A","x":13.7,"y":6.6},{"s":"A","x":13.5,"y":5.2},{"s":"A","x":13.3,"y":3.9},{"s":"A","x":13.1,"y":2.6},{"s":"A","x":12.9,"y":1.85},{"s":"A","x":12.6,"y":1.35},{"s":"A","x":12.2,"y":1.05},{"s":"A","x":11.5,"y":0.85},{"s":"A","x":10.5,"y":0.78},{"s":"A","x":9.5,"y":0.85},{"s":"A","x":9,"y":0.7},{"s":"A","x":8.5,"y":0.6},{"s":"A","x":8,"y":0.5},{"s":"A","x":7.5,"y":0.45},{"s":"A","x":7,"y":0.42},{"s":"A","x":6.5,"y":0.45},{"s":"A","x":6,"y":0.4},
{"s":"B","x":29,"y":1.55},{"s":"B","x":28.5,"y":1.4},{"s":"B","x":28,"y":1.25},{"s":"B","x":27.5,"y":0.95},{"s":"B","x":27,"y":0.4},{"s":"B","x":26.5,"y":-0.35},{"s":"B","x":26,"y":-1.2},{"s":"B","x":25.5,"y":-2.2},{"s":"B","x":25,"y":-3.55},{"s":"B","x":24.6,"y":-4.75},{"s":"B","x":24.3,"y":-5.85},{"s":"B","x":24,"y":-6.85},{"s":"B","x":23.75,"y":-7.55},{"s":"B","x":23.5,"y":-7.4},{"s":"B","x":23.2,"y":-6.75},{"s":"B","x":22.9,"y":-6.15},{"s":"B","x":22.6,"y":-5.8},{"s":"B","x":22.3,"y":-5.3},{"s":"B","x":22,"y":-4.25},{"s":"B","x":21.7,"y":-3.05},{"s":"B","x":21.4,"y":-1.75},{"s":"B","x":21.1,"y":-0.45},{"s":"B","x":20.8,"y":0.75},{"s":"B","x":20.5,"y":1.55},{"s":"B","x":20.2,"y":1.9},{"s":"B","x":19.8,"y":2.3},{"s":"B","x":19.2,"y":3.0},{"s":"B","x":18.6,"y":3.75},{"s":"B","x":18,"y":4.55},{"s":"B","x":17.5,"y":5.2},{"s":"B","x":17,"y":5.65},{"s":"B","x":16.7,"y":5.85},{"s":"B","x":16.4,"y":5.9},{"s":"B","x":16.1,"y":5.9},{"s":"B","x":15.8,"y":5.8},{"s":"B","x":15.5,"y":5.6},{"s":"B","x":15.2,"y":5.3},{"s":"B","x":14.9,"y":5.0},{"s":"B","x":14.6,"y":4.85},{"s":"B","x":14.35,"y":4.9},{"s":"B","x":14.15,"y":5.05},{"s":"B","x":14,"y":4.9},{"s":"B","x":13.85,"y":4.6},{"s":"B","x":13.7,"y":4.1},{"s":"B","x":13.5,"y":3.4},{"s":"B","x":13.3,"y":2.6},{"s":"B","x":13.1,"y":1.95},{"s":"B","x":12.9,"y":1.5},{"s":"B","x":12.6,"y":1.2},{"s":"B","x":12.2,"y":1.0},{"s":"B","x":11.5,"y":0.9},{"s":"B","x":10.5,"y":0.8},{"s":"B","x":9.5,"y":0.78},{"s":"B","x":9,"y":0.72},{"s":"B","x":8.5,"y":0.65},{"s":"B","x":8,"y":0.62},{"s":"B","x":7.5,"y":0.62},{"s":"B","x":7,"y":0.62},{"s":"B","x":6.5,"y":0.63},{"s":"B","x":6,"y":0.65},
{"s":"C","x":29,"y":1.4},{"s":"C","x":28.5,"y":1.3},{"s":"C","x":28,"y":1.1},{"s":"C","x":27.5,"y":0.8},{"s":"C","x":27,"y":0.3},{"s":"C","x":26.5,"y":-0.45},{"s":"C","x":26,"y":-1.3},{"s":"C","x":25.5,"y":-2.35},{"s":"C","x":25,"y":-3.7},{"s":"C","x":24.6,"y":-4.95},{"s":"C","x":24.3,"y":-6.1},{"s":"C","x":24,"y":-7.2},{"s":"C","x":23.75,"y":-7.8},{"s":"C","x":23.5,"y":-7.65},{"s":"C","x":23.2,"y":-7.0},{"s":"C","x":22.9,"y":-6.35},{"s":"C","x":22.6,"y":-5.95},{"s":"C","x":22.3,"y":-5.45},{"s":"C","x":22,"y":-4.35},{"s":"C","x":21.7,"y":-3.1},{"s":"C","x":21.4,"y":-1.85},{"s":"C","x":21.1,"y":-0.55},{"s":"C","x":20.8,"y":0.7},{"s":"C","x":20.5,"y":1.5},{"s":"C","x":20.2,"y":1.85},{"s":"C","x":19.8,"y":2.25},{"s":"C","x":19.2,"y":2.95},{"s":"C","x":18.6,"y":3.7},{"s":"C","x":18,"y":4.55},{"s":"C","x":17.5,"y":5.4},{"s":"C","x":17,"y":6.45},{"s":"C","x":16.7,"y":7.1},{"s":"C","x":16.4,"y":7.85},{"s":"C","x":16.1,"y":7.7},{"s":"C","x":15.8,"y":7.0},{"s":"C","x":15.5,"y":6.3},{"s":"C","x":15.2,"y":5.4},{"s":"C","x":14.9,"y":4.75},{"s":"C","x":14.6,"y":4.4},{"s":"C","x":14.35,"y":4.25},{"s":"C","x":14.15,"y":4.1},{"s":"C","x":14,"y":3.7},{"s":"C","x":13.85,"y":3.3},{"s":"C","x":13.7,"y":2.8},{"s":"C","x":13.5,"y":2.15},{"s":"C","x":13.3,"y":1.65},{"s":"C","x":13.1,"y":1.3},{"s":"C","x":12.9,"y":1.15},{"s":"C","x":12.6,"y":1.05},{"s":"C","x":12.2,"y":1.0},{"s":"C","x":11.5,"y":0.87},{"s":"C","x":10.5,"y":0.8},{"s":"C","x":9.5,"y":0.7},{"s":"C","x":9,"y":0.62},{"s":"C","x":8.5,"y":0.65},{"s":"C","x":8,"y":0.8},{"s":"C","x":7.5,"y":0.98},{"s":"C","x":7,"y":1.15},{"s":"C","x":6.5,"y":1.28},{"s":"C","x":6,"y":1.2},
{"s":"D","x":29,"y":1.15},{"s":"D","x":28.5,"y":1.1},{"s":"D","x":28,"y":1.0},{"s":"D","x":27.5,"y":0.65},{"s":"D","x":27,"y":0.2},{"s":"D","x":26.5,"y":-0.5},{"s":"D","x":26,"y":-1.35},{"s":"D","x":25.5,"y":-2.35},{"s":"D","x":25,"y":-3.55},{"s":"D","x":24.6,"y":-4.6},{"s":"D","x":24.3,"y":-5.6},{"s":"D","x":24,"y":-6.6},{"s":"D","x":23.75,"y":-7.15},{"s":"D","x":23.5,"y":-7.0},{"s":"D","x":23.2,"y":-6.45},{"s":"D","x":22.9,"y":-5.95},{"s":"D","x":22.6,"y":-5.6},{"s":"D","x":22.3,"y":-5.05},{"s":"D","x":22,"y":-4.05},{"s":"D","x":21.7,"y":-2.85},{"s":"D","x":21.4,"y":-1.55},{"s":"D","x":21.1,"y":-0.3},{"s":"D","x":20.8,"y":0.75},{"s":"D","x":20.5,"y":1.45},{"s":"D","x":20.2,"y":1.8},{"s":"D","x":19.8,"y":2.1},{"s":"D","x":19.2,"y":2.65},{"s":"D","x":18.6,"y":3.3},{"s":"D","x":18,"y":4.1},{"s":"D","x":17.5,"y":4.95},{"s":"D","x":17,"y":6.25},{"s":"D","x":16.7,"y":7.35},{"s":"D","x":16.4,"y":8.6},{"s":"D","x":16.1,"y":8.3},{"s":"D","x":15.8,"y":7.25},{"s":"D","x":15.5,"y":5.9},{"s":"D","x":15.2,"y":4.75},{"s":"D","x":14.9,"y":4.0},{"s":"D","x":14.6,"y":3.6},{"s":"D","x":14.35,"y":3.3},{"s":"D","x":14.15,"y":3.1},{"s":"D","x":14,"y":2.75},{"s":"D","x":13.85,"y":2.4},{"s":"D","x":13.7,"y":2.0},{"s":"D","x":13.5,"y":1.6},{"s":"D","x":13.3,"y":1.3},{"s":"D","x":13.1,"y":1.1},{"s":"D","x":12.9,"y":1.0},{"s":"D","x":12.6,"y":0.95},{"s":"D","x":12.2,"y":0.9},{"s":"D","x":11.5,"y":0.85},{"s":"D","x":10.5,"y":0.78},{"s":"D","x":9.5,"y":0.62},{"s":"D","x":9,"y":0.53},{"s":"D","x":8.5,"y":0.6},{"s":"D","x":8,"y":0.9},{"s":"D","x":7.5,"y":1.15},{"s":"D","x":7,"y":1.35},{"s":"D","x":6.5,"y":1.45},{"s":"D","x":6,"y":1.3}
],
"cs": [
{"x":21.0,"y":0},{"x":20.7,"y":0.3},{"x":20.4,"y":0.55},{"x":20.0,"y":0.85},{"x":19.6,"y":1.2},{"x":19.3,"y":1.5},{"x":19.0,"y":1.85},{"x":18.7,"y":2.3},{"x":18.44,"y":2.8},{"x":18.2,"y":3.3},{"x":18.0,"y":3.6},{"x":17.85,"y":3.8},{"x":17.65,"y":3.65},{"x":17.4,"y":3.45},{"x":17.2,"y":3.3},{"x":16.93,"y":2.95},{"x":16.7,"y":2.6},{"x":16.47,"y":2.25},{"x":16.2,"y":1.8},{"x":16.0,"y":1.45},{"x":15.7,"y":1.2},{"x":15.42,"y":1.05},{"x":15.1,"y":1.1},{"x":14.84,"y":1.2},{"x":14.6,"y":1.25},{"x":14.4,"y":1.2},{"x":14.26,"y":1.1},{"x":14.1,"y":1.15},{"x":14.0,"y":0.9},{"x":13.95,"y":1.5},{"x":13.9,"y":0.8},{"x":13.85,"y":1.8},{"x":13.8,"y":0.8},{"x":13.75,"y":1.3},{"x":13.7,"y":0.7},{"x":13.68,"y":0}
]
},
"vconcat": [
{
"width": 660, "height": 360,
"resolve": {"axis": {"x": "independent", "y": "independent"}},
"layer": [
{
 "data": {"name": "ss"},
 "mark": {"type": "area", "color": "#c3cacc"},
 "encoding": {
  "x": {"field": "x", "type": "quantitative", "scale": {"domain": [6, 29], "reverse": true, "nice": false, "zero": false},
   "axis": {"orient": "top", "title": "Wavelength / nm", "values": [28.5714286, 25, 20, 16.6666667, 14.2857143, 12.5, 10, 8.3333333, 7.1428571, 6.25],
    "labelExpr": "(datum.value > 8.2 && datum.value < 8.4) || (datum.value > 7.1 && datum.value < 7.2) ? '' : format(10000 / datum.value, '.0f')",
    "labelPadding": 6, "titlePadding": 8, "titleX": 300}},
  "y": {"field": "y", "type": "quantitative", "scale": {"domain": [-8.8, 9.2], "nice": false, "zero": false},
   "axis": {"orient": "left", "values": [-5, 0, 5], "title": "ΔA / 10⁻³", "titleX": -55, "titleY": 360, "titleAngle": 270, "titleAlign": "center", "titleBaseline": "alphabetic", "labelPadding": 3}},
  "y2": {"datum": 0}
 }
},
{
 "data": {"name": "ss"},
 "mark": {"type": "line", "color": "#3a3a3a", "strokeDash": [6, 4], "strokeWidth": 1.8},
 "encoding": {
  "x": {"field": "x", "type": "quantitative", "axis": {"orient": "bottom", "values": [6,8,10,12,14,16,18,20,22,24,26,28], "labels": false, "title": null}},
  "y": {"field": "y", "type": "quantitative", "axis": null}
 }
},
{
 "data": {"values": [{}]},
 "mark": {"type": "rule", "strokeDash": [7, 5], "strokeWidth": 1.8, "color": "#111111"},
 "encoding": {"y": {"datum": 0, "axis": null}}
},
{
 "data": {"values": [{"x": 9.32, "x2": 6.0, "y": 0.2, "y2": 1.75}]},
 "mark": {"type": "rect", "fill": "#dfe3e5", "stroke": "#333333", "strokeWidth": 1.5},
 "encoding": {"x": {"field": "x", "type": "quantitative", "axis": null}, "x2": {"field": "x2"}, "y": {"field": "y", "type": "quantitative", "axis": null}, "y2": {"field": "y2"}}
},
{
 "data": {"name": "ta"},
 "mark": {"type": "line", "strokeWidth": 2},
 "encoding": {
  "x": {"field": "x", "type": "quantitative", "axis": null},
  "y": {"field": "y", "type": "quantitative", "axis": null},
  "color": {"field": "t", "type": "nominal",
   "scale": {"domain": ["0.2","2","20","0.5","5","50","1","10","200"], "range": ["#3a30d8","#30e090","#ff7a30","#2060ff","#40e040","#ff3c28","#20b8f0","#90e030","#f02a10"]},
   "legend": {"title": "Time / ps", "orient": "none", "legendX": 17, "legendY": 18, "direction": "horizontal", "columns": 3, "gridAlign": "each",
    "symbolType": "stroke", "symbolStrokeWidth": 2.5, "symbolSize": 169,
    "labelFont": "Liberation Sans", "labelFontSize": 21, "labelColor": "black", "labelOffset": 15,
    "titleFont": "Liberation Sans", "titleFontSize": 21, "titleFontWeight": "normal", "titleColor": "black", "titleAnchor": "middle", "titlePadding": 3,
    "columnPadding": 9, "rowPadding": 1, "padding": 0}}
 }
},
{
 "data": {"values": [{"x": 9.32, "y": 0.2, "x2": 17.36, "y2": -0.5}, {"x": 6.0, "y": 0.2, "x2": 6.26, "y2": -0.5}]},
 "mark": {"type": "rule", "color": "#333333", "strokeWidth": 1.5},
 "encoding": {"x": {"field": "x", "type": "quantitative", "axis": null}, "x2": {"field": "x2"}, "y": {"field": "y", "type": "quantitative", "axis": null}, "y2": {"field": "y2"}}
},
{
 "data": {"values": [{"x": 17.36, "x2": 6.26, "y": -0.5, "y2": -8.2}]},
 "mark": {"type": "rect", "fill": "#dfe3e5", "stroke": "#333333", "strokeWidth": 1.5},
 "encoding": {"x": {"field": "x", "type": "quantitative", "axis": null}, "x2": {"field": "x2"}, "y": {"field": "y", "type": "quantitative", "axis": null}, "y2": {"field": "y2"}}
},
{
 "data": {"name": "ins"},
 "mark": {"type": "line", "strokeWidth": 2},
 "encoding": {
  "x": {"field": "x", "type": "quantitative", "axis": null},
  "y": {"field": "y", "type": "quantitative", "axis": null},
  "color": {"field": "t", "type": "nominal", "legend": null}
 }
},
{
 "data": {"values": [{"label": "A", "x": 6.95, "y": 6.75}, {"label": "B", "x": 16.43, "y": -3.05}]},
 "mark": {"type": "text", "fontSize": 52, "font": "Liberation Sans", "align": "center", "baseline": "alphabetic", "color": "black"},
 "encoding": {"x": {"field": "x", "type": "quantitative", "axis": null}, "y": {"field": "y", "type": "quantitative", "axis": null}, "text": {"field": "label"}}
}
]
},
{
"width": 660, "height": 360,
"resolve": {"axis": {"x": "independent", "y": "independent"}},
"layer": [
{
 "data": {"name": "cs"},
 "mark": {"type": "area", "color": "#a9aeb1"},
 "encoding": {
  "x": {"field": "x", "type": "quantitative", "scale": {"domain": [6, 29], "reverse": true, "nice": false, "zero": false},
   "axis": {"orient": "bottom", "values": [6,8,10,12,14,16,18,20,22,24,26,28], "title": "Wavenumber / 10³ cm⁻¹", "labelPadding": 6, "titlePadding": 4, "titleX": 300}},
  "y": {"field": "y", "type": "quantitative", "scale": {"domain": [-8.6, 9.5], "nice": false, "zero": false},
   "axis": {"orient": "left", "values": [-5, 0, 5], "title": null, "labelPadding": 3}},
  "y2": {"datum": 0}
 }
},
{
 "data": {"values": [{}]},
 "mark": {"type": "rule", "strokeDash": [7, 5], "strokeWidth": 1.8, "color": "#111111"},
 "encoding": {"y": {"datum": 0, "axis": null}}
},
{
 "data": {"name": "tc"},
 "mark": {"type": "line", "strokeWidth": 2},
 "encoding": {
  "x": {"field": "x", "type": "quantitative", "axis": null},
  "y": {"field": "y", "type": "quantitative", "axis": null},
  "color": {"field": "s", "type": "nominal", "scale": {"domain": ["A","B","C","D"], "range": ["#2a3cf0","#1e8c1e","#ff2222","#111111"]}, "legend": null}
 }
},
{
 "data": {"values": [{"label": "CS", "x": 17.52, "y": 0.5}]},
 "mark": {"type": "text", "fontSize": 35, "font": "Liberation Sans", "align": "center", "baseline": "alphabetic", "color": "white"},
 "encoding": {"x": {"field": "x", "type": "quantitative", "axis": null}, "y": {"field": "y", "type": "quantitative", "axis": null}, "text": {"field": "label"}}
},
{
 "data": {"values": [{"x": 19.08, "x2": 17.41, "y": -4.94}, {"x": 15.87, "x2": 14.2, "y": -4.94}, {"x": 12.39, "x2": 10.68, "y": -4.94}, {"x": 9.05, "x2": 7.31, "y": -4.94}]},
 "mark": {"type": "rule", "strokeWidth": 1.4, "color": "black"},
 "encoding": {"x": {"field": "x", "type": "quantitative", "axis": null}, "x2": {"field": "x2"}, "y": {"field": "y", "type": "quantitative", "axis": null}}
},
{
 "data": {"values": [{"x": 17.55, "y": -4.94}, {"x": 14.34, "y": -4.94}, {"x": 10.82, "y": -4.94}, {"x": 7.45, "y": -4.94}]},
 "mark": {"type": "point", "shape": "triangle-right", "filled": true, "size": 45, "color": "black", "opacity": 1},
 "encoding": {"x": {"field": "x", "type": "quantitative", "axis": null}, "y": {"field": "y", "type": "quantitative", "axis": null}}
},
{
 "data": {"values": [{"s": "A", "x": 19.95, "y": -5.55}, {"s": "B", "x": 16.57, "y": -5.55}, {"s": "C", "x": 13.16, "y": -5.55}, {"s": "D", "x": 9.81, "y": -5.55}]},
 "mark": {"type": "text", "fontSize": 34, "font": "Liberation Sans", "align": "center", "baseline": "alphabetic"},
 "encoding": {"x": {"field": "x", "type": "quantitative", "axis": null}, "y": {"field": "y", "type": "quantitative", "axis": null}, "text": {"field": "s"}, "color": {"field": "s", "type": "nominal", "legend": null}}
},
{
 "data": {"values": [{"label": "0.6 ps", "x": 18.21, "y": -4.25}, {"label": "8.7 ps", "x": 15.0, "y": -4.25}, {"label": "292 ps", "x": 11.49, "y": -4.25}]},
 "mark": {"type": "text", "fontSize": 21, "font": "Liberation Sans", "align": "center", "baseline": "alphabetic", "color": "black"},
 "encoding": {"x": {"field": "x", "type": "quantitative", "axis": null}, "y": {"field": "y", "type": "quantitative", "axis": null}, "text": {"field": "label"}}
},
{
 "data": {"values": [{"label": "C", "x": 7.15, "y": 6.25}]},
 "mark": {"type": "text", "fontSize": 52, "font": "Liberation Sans", "align": "center", "baseline": "alphabetic", "color": "black"},
 "encoding": {"x": {"field": "x", "type": "quantitative", "axis": null}, "y": {"field": "y", "type": "quantitative", "axis": null}, "text": {"field": "label"}}
}
]
}
]
}
